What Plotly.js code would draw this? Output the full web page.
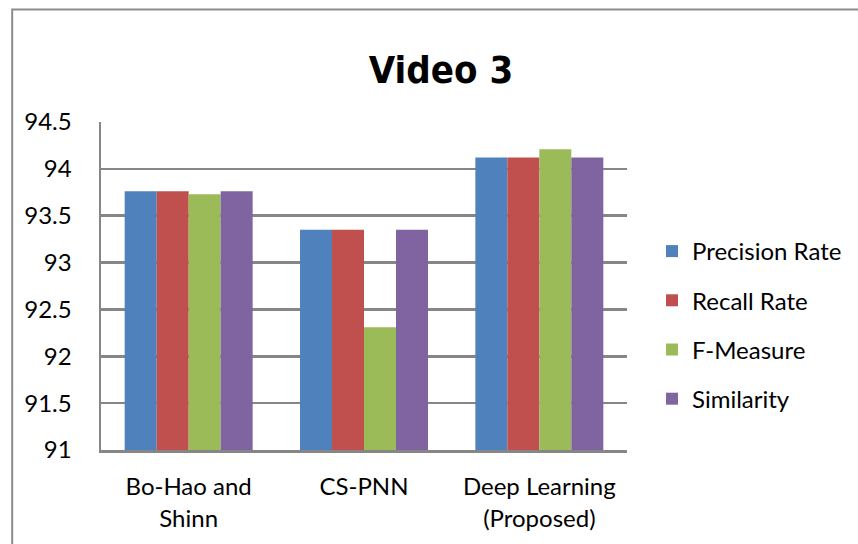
<!DOCTYPE html>
<html>
<head>
<meta charset="utf-8">
<script src="https://cdn.plot.ly/plotly-3.0.1.min.js"></script>
<style>
  html, body { margin: 0; padding: 0; background: #fff; }
  #chart { width: 858px; height: 544px; }
</style>
</head>
<body>
<div id="chart"></div>
<script>
const categories = ["Bo-Hao and<br>Shinn", "CS-PNN", "Deep Learning<br>(Proposed)"];
const seriesNames = ["Precision Rate", "Recall Rate", "F-Measure", "Similarity"];
const precision = [93.76, 93.35, 94.12];
const recall = [93.76, 93.35, 94.12];
const fMeasure = [93.73, 92.31, 94.21];
const similarity = [93.76, 93.35, 94.12];
const tickVals = [91, 91.5, 92, 92.5, 93, 93.5, 94, 94.5];
const tickText = ["91", "91.5", "92", "92.5", "93", "93.5", "94", "94.5"];

const colors = ["#4F81BD", "#C0504D", "#9BBB59", "#8064A2"];
const values = [precision, recall, fMeasure, similarity];

const font = "Lato, 'Open Sans', 'Liberation Sans', sans-serif";

const traces = values.map((v, i) => ({
  type: "bar",
  name: seriesNames[i],
  x: categories,
  y: v.map(val => val - 91),
  base: 91,
  marker: { color: colors[i], line: { width: 0 } },
  legendgroup: "g" + i,
  hoverinfo: "skip"
}));

const ml = 101, mr = 230, mt = 122, mb = 94;
const pw = 858 - ml - mr, ph = 544 - mt - mb;
const px = x => (x - ml) / pw;
const py = y => (544 - mb - y) / ph;

const layout = {
  width: 858, height: 544,
  margin: { l: ml, r: mr, t: mt, b: mb },
  paper_bgcolor: "#fff",
  plot_bgcolor: "#fff",
  title: {
    text: "<b>Video 3</b>",
    font: { family: "'DejaVu Sans Condensed', 'Liberation Sans', Arial, sans-serif", size: 38, color: "#000" },
    x: 441 / 858, xanchor: "center", xref: "container",
    y: 1 - 70 / 544, yanchor: "middle", yref: "container"
  },
  barmode: "group",
  bargap: 0.27,
  bargroupgap: 0,
  xaxis: {
    type: "category",
    showgrid: false,
    showline: true, linecolor: "#868686", linewidth: 2.5,
    ticks: "",
    ticklabelstandoff: 14,
    tickfont: { family: font, size: 24, color: "#000" },
    mirror: false,
    fixedrange: true
  },
  yaxis: {
    range: [91, 94.5],
    tickvals: tickVals,
    ticktext: tickText,
    showgrid: true, gridcolor: "#868686", gridwidth: 2.5,
    showline: true, linecolor: "#868686", linewidth: 2.5,
    zeroline: false,
    ticks: "",
    ticklabelstandoff: 22,
    tickfont: { family: font, size: 24, color: "#000" },
    fixedrange: true
  },
  showlegend: true,
  legend: {
    x: px(652), xanchor: "left",
    y: py(325), yanchor: "middle",
    font: { family: font, size: 24, color: "#000" },
    traceorder: "grouped",
    tracegroupgap: 15,
    bgcolor: "rgba(0,0,0,0)"
  },
  shapes: [
    {
      type: "rect", xref: "paper", yref: "paper",
      x0: px(12), x1: px(880), y0: py(9.5), y1: py(580),
      line: { color: "#8c8c8c", width: 2 },
      fillcolor: "rgba(0,0,0,0)",
      layer: "below"
    }
  ]
};

Plotly.newPlot("chart", traces, layout, { displayModeBar: false, staticPlot: true });
</script>
</body>
</html>
